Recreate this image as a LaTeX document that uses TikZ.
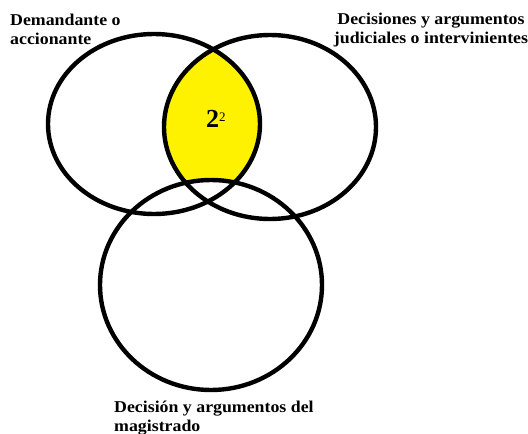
\documentclass[tikz,border=0pt]{standalone}
\usepackage{fontspec}
\setmainfont{Liberation Serif}
\newfontfamily\labelfont[FakeStretch=1.08]{Liberation Serif}
\begin{document}
\begin{tikzpicture}[x=1pt,y=-1pt,
  ring/.style={draw=black,line width=4.4pt},
  setlabel/.style={font=\labelfont\bfseries\fontsize{16.5}{19}\selectfont,inner sep=0pt}]
\useasboundingbox (0,0) rectangle (528,434);
\coordinate (cl) at (154,124);
\coordinate (cr) at (270,127);
\coordinate (cb) at (211,285);
% shaded overlap of the two upper sets
\begin{scope}
  \clip (cl) ellipse [x radius=106pt, y radius=90pt];
  \fill[yellow] (cr) ellipse [x radius=106pt, y radius=92pt];
\end{scope}
\fill[white] (cb) ellipse [x radius=111pt, y radius=105pt];
% the three sets
\draw[ring] (cl) ellipse [x radius=106pt, y radius=90pt];
\draw[ring] (cr) ellipse [x radius=106pt, y radius=92pt];
\draw[ring] (cb) ellipse [x radius=111pt, y radius=105pt];
% labels
\node[setlabel,anchor=north west,align=left] (demandante) at (10,14)
  {Demandante o\\accionante};
\node[setlabel,anchor=north,align=center] (decisiones) at (431,13)
  {Decisiones y argumentos\\judiciales o intervinientes};
\node[setlabel,anchor=north west,align=left] (magistrado) at (114,401)
  {Decisión y argumentos del\\magistrado};
\node[inner sep=0pt,anchor=base west] (cuenta) at (206,127)
  {\bfseries\fontsize{26}{26}\selectfont 2\raisebox{6pt}{\mdseries\fontsize{13}{13}\selectfont 2}};
\end{tikzpicture}
\end{document}
